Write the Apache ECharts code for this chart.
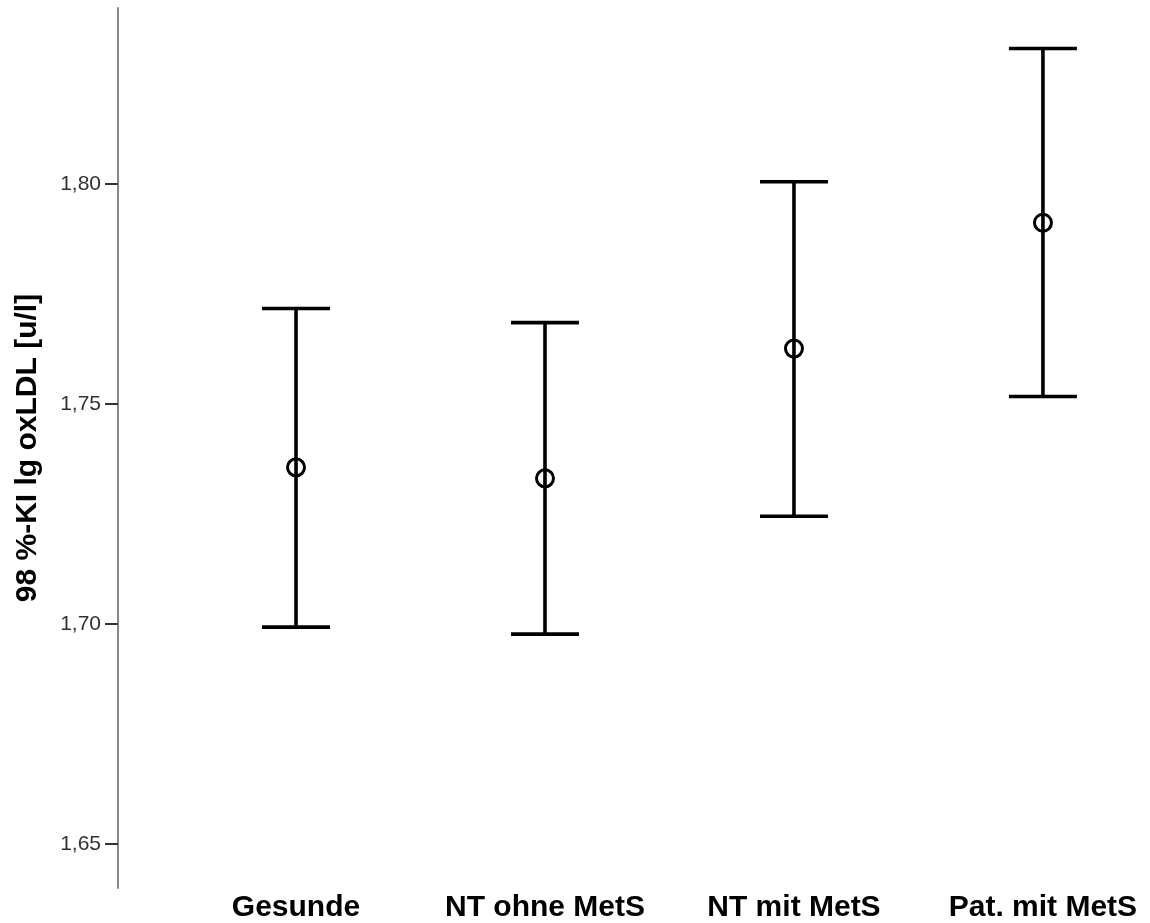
<!DOCTYPE html>
<html>
<head>
<meta charset="utf-8">
<script src="https://cdn.jsdelivr.net/npm/echarts@6/dist/echarts.min.js"></script>
<style>
html,body{margin:0;padding:0;background:#fff;}
#chart{width:1150px;height:923px;}
</style>
</head>
<body>
<div id="chart"></div>
<script>
const categories = ['Gesunde', 'NT ohne MetS', 'NT mit MetS', 'Pat. mit MetS'];
const means = [1.7356, 1.7331, 1.7626, 1.7912];
const lowers = [1.6993, 1.6977, 1.7245, 1.7517];
const uppers = [1.7717, 1.7685, 1.8005, 1.8308];
const yTicks = [1.65, 1.70, 1.75, 1.80];
const yAxisTitle = '98 %-KI lg oxLDL [u/l]';

const FONT = '"Liberation Sans", Arial, sans-serif';
const data = categories.map((c, i) => [i + 1, means[i], lowers[i], uppers[i]]);

const chart = echarts.init(document.getElementById('chart'), null, {renderer: 'canvas'});
chart.setOption({
  animation: false,
  backgroundColor: '#ffffff',
  grid: {left: 118, right: 0, top: 8, bottom: 35, containLabel: false},
  xAxis: {
    type: 'value',
    min: 0.285,
    max: 4.43,
    axisLine: {show: false},
    axisTick: {show: false},
    splitLine: {show: false},
    axisLabel: {
      customValues: [1, 2, 3, 4],
      formatter: v => categories[Math.round(v) - 1] || '',
      margin: 5,
      color: '#000',
      fontFamily: FONT,
      fontWeight: 'bold',
      fontSize: 30
    }
  },
  yAxis: {
    type: 'value',
    min: 1.64,
    max: 1.84,
    name: yAxisTitle,
    nameLocation: 'middle',
    nameGap: 75,
    nameTextStyle: {color: '#000', fontFamily: FONT, fontWeight: 'bold', fontSize: 30},
    axisLine: {show: true, lineStyle: {color: '#888', width: 2}},
    axisTick: {show: true, customValues: yTicks, length: 13, lineStyle: {color: '#333', width: 2}},
    splitLine: {show: false},
    axisLabel: {
      customValues: yTicks,
      formatter: v => v.toFixed(2).replace('.', ','),
      margin: 17,
      color: '#333',
      fontFamily: FONT,
      fontSize: 21
    }
  },
  series: [{
    type: 'custom',
    data: data,
    encode: {x: 0, y: [1, 2, 3]},
    renderItem: function (params, api) {
      const x = api.value(0);
      const pm = api.coord([x, api.value(1)]);
      const pl = api.coord([x, api.value(2)]);
      const pu = api.coord([x, api.value(3)]);
      const hw = 34;
      const r = 8.5;
      const st = {stroke: '#000', lineWidth: 3.6, fill: null};
      return {
        type: 'group',
        children: [
          {type: 'line', shape: {x1: pl[0], y1: pl[1], x2: pu[0], y2: pu[1]}, style: st},
          {type: 'line', shape: {x1: pu[0] - hw, y1: pu[1], x2: pu[0] + hw, y2: pu[1]}, style: st},
          {type: 'line', shape: {x1: pl[0] - hw, y1: pl[1], x2: pl[0] + hw, y2: pl[1]}, style: st},
          {type: 'circle', shape: {cx: pm[0], cy: pm[1], r: r}, style: {stroke: '#000', lineWidth: 3, fill: 'none'}}
        ]
      };
    }
  }]
});
</script>
</body>
</html>
